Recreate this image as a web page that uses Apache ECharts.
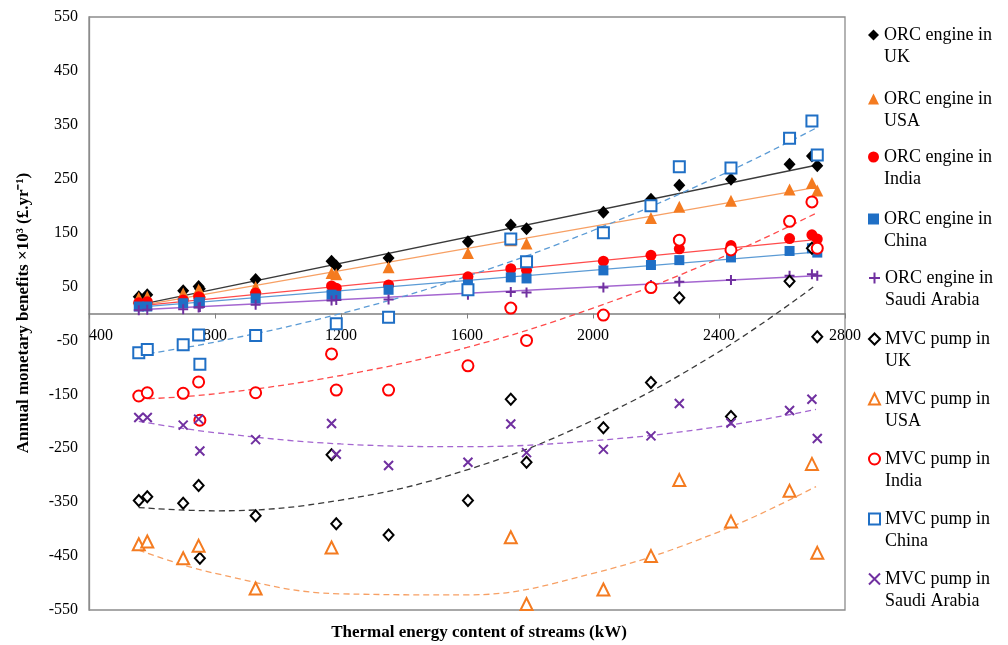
<!DOCTYPE html>
<html><head><meta charset="utf-8">
<script src="https://cdn.jsdelivr.net/npm/echarts@6/dist/echarts.min.js"></script>
<style>html,body{margin:0;padding:0;background:#fff}#c{width:1008px;height:645px}</style>
</head><body><div id="c"></div>
<script>
// Thermal energy content of the streams (kW) – shared x values
const streams = [558, 585, 699, 748, 752, 929, 1170, 1185, 1351, 1603, 1739, 1789, 2033, 2184, 2274, 2438, 2624, 2695, 2712];

// ORC engine benefits (×10^3 £/yr)
const orcUK     = [31, 35, 42, 50, 46, 63, 97, 88, 103, 133, 164, 157, 188, 212, 238, 249, 277, 292, 274];
const orcUSA    = [29, 31, 37, 44, 41, 49, 75, 73, 86, 112, 136, 130, 152, 177, 198, 209, 230, 242, 228];
const orcIndia  = [20, 22, 25, 31, 29, 38, 51, 47, 53, 68, 83, 80, 97, 108, 120, 126, 139, 146, 138];
const orcChina  = [13, 13, 19, 19, 21, 28, 35, 33, 44, 54, 67, 65, 80, 90, 99, 104, 116, 121, 113];
const orcSaudi  = [6, 7, 8, 11, 12, 16, 24, 25, 26, 35, 40, 39, 48, 53, 59, 62, 70, 73, 70];

// MVC pump benefits (×10^3 £/yr); null = hidden / off the plotted range
const mvcUK     = [-347, -340, -352, -319, -454, -375, -262, -390, -411, -347, -159, -276, -212, -128, 29, -191, 60, 121, -43];
const mvcUSA    = [-428, -423, -454, -431, null, -510, -434, null, null, null, -415, -539, -512, -450, -309, -386, -329, -279, -444];
const mvcIndia  = [-153, -147, -148, -127, -198, -147, -75, -142, -142, -97, 10, -50, -3, 48, 136, 118, 171, 207, 121];
const mvcChina  = [-73, -67, -58, -40, -94, -41, null, -19, -7, 44, 138, 96, 150, 200, 272, 270, 325, 357, 294];
const mvcSaudi  = [-193, -193, -207, -196, -255, -234, -204, -261, -282, -276, -205, -258, -252, -227, -167, -203, -180, -159, -232];

// Trend lines
const orcTrendX   = [558, 2708];
const orcUKTrend    = [16, 275];
const orcUSATrend   = [14, 234];
const orcIndiaTrend = [14, 137];
const orcChinaTrend = [12, 114];
const orcSaudiTrend = [7, 70];

const mvcTrendX   = [558, 800, 1200, 1600, 2000, 2400, 2708];
const mvcUKTrend    = [-360, -366, -346, -290, -198, -71, 53];
const mvcUSATrend   = [-439, -482, -520, -522, -482, -405, -321];
const mvcIndiaTrend = [-159, -149, -115, -63, 10, 102, 186];
const mvcChinaTrend = [-77, -53, 0, 69, 154, 255, 344];
const mvcSaudiTrend = [-200, -221, -242, -247, -236, -210, -178];

const yTickMin = -550, yTickMax = 550, yTickStep = 100;
const xTickMin = 400, xTickMax = 2800, xTickStep = 400;

const FONT = '"Liberation Serif", "Times New Roman", serif';
const C = {black:'#000000', orange:'#F47B20', red:'#FF0000', blue:'#1F6FC5', purple:'#7030A0'};
const LC = {black:'#3a3a3a', orange:'#F7A064', red:'#FF4B4B', blue:'#5B9BD5', purple:'#A466D0'};

const PLUS = 'path://M5,0L5,10M0,5L10,5';
const CROSS = 'path://M0,0L10,10M10,0L0,10';

function pts(xs, ys){ const out=[]; xs.forEach((x,i)=>{ if(ys[i]!==null && ys[i]!==undefined) out.push([x, ys[i]]); }); return out; }

const scatterDefs = [
  {name:'ORC engine in UK', d:orcUK, symbol:'diamond', size:[12,13], fill:C.black, stroke:null},
  {name:'ORC engine in USA', d:orcUSA, symbol:'triangle', size:12, fill:C.orange, stroke:null},
  {name:'ORC engine in India', d:orcIndia, symbol:'circle', size:11, fill:C.red, stroke:null},
  {name:'ORC engine in China', d:orcChina, symbol:'rect', size:10, fill:C.blue, stroke:null},
  {name:'ORC engine in Saudi Arabia', d:orcSaudi, symbol:PLUS, size:10, fill:'transparent', stroke:C.purple},
  {name:'MVC pump in UK', d:mvcUK, symbol:'diamond', size:[10,11], fill:'#ffffff', stroke:C.black},
  {name:'MVC pump in USA', d:mvcUSA, symbol:'triangle', size:12, fill:'#ffffff', stroke:C.orange},
  {name:'MVC pump in India', d:mvcIndia, symbol:'circle', size:11, fill:'#ffffff', stroke:C.red},
  {name:'MVC pump in China', d:mvcChina, symbol:'rect', size:11, fill:'#ffffff', stroke:C.blue},
  {name:'MVC pump in Saudi Arabia', d:mvcSaudi, symbol:CROSS, size:9, fill:'transparent', stroke:C.purple}
];

const series = [];
const trendDefs = [
  [orcTrendX, orcUKTrend, LC.black, 'solid'],
  [orcTrendX, orcUSATrend, LC.orange, 'solid'],
  [orcTrendX, orcIndiaTrend, LC.red, 'solid'],
  [orcTrendX, orcChinaTrend, LC.blue, 'solid'],
  [orcTrendX, orcSaudiTrend, LC.purple, 'solid'],
  [mvcTrendX, mvcUKTrend, LC.black, [6,4]],
  [mvcTrendX, mvcUSATrend, LC.orange, [6,4]],
  [mvcTrendX, mvcIndiaTrend, LC.red, [6,4]],
  [mvcTrendX, mvcChinaTrend, LC.blue, [6,4]],
  [mvcTrendX, mvcSaudiTrend, LC.purple, [6,4]]
];
trendDefs.forEach(t => series.push({
  type:'line', data:pts(t[0], t[1]), smooth:t[0].length>2 ? 0.4 : false, showSymbol:false, silent:true,
  lineStyle:{color:t[2], width:1.3, type:t[3]}, z:1
}));
scatterDefs.forEach(s => series.push({
  type:'scatter', name:s.name, data:pts(streams, s.d), symbol:s.symbol, symbolSize:s.size,
  itemStyle: s.stroke ? {color:s.fill, borderColor:s.stroke, borderWidth:2, opacity:1} : {color:s.fill, opacity:1},
  z:3
}));

const legendIconY = [35, 99, 157, 219, 278, 339, 399, 459, 519, 579];
const legends = scatterDefs.map((s,i) => ({
  data:[s.name], left:868, top: legendIconY[i] - 33.75, padding:0,
  orient:'vertical', itemWidth:11, itemHeight:11, selectedMode:false,
  formatter: n => ' \n' + n.replace(' in ', ' in\n'),
  textStyle:{fontFamily:FONT, fontSize:18, lineHeight:22.5, color:'#000'}
}));

const plain = v => String(v);
const option = {
  animation:false,
  backgroundColor:'#fff',
  grid:{left:89, top:17, width:756, height:593, show:true, borderColor:'#8c8c8c', borderWidth:1.3, containLabel:false},
  xAxis:[
    {type:'value', min:xTickMin, max:xTickMax, interval:xTickStep,
      axisLine:{onZero:true, lineStyle:{color:'#7f7f7f', width:1.5}},
      axisTick:{show:true, inside:false, length:5, lineStyle:{color:'#7f7f7f'}},
      splitLine:{show:false}, axisLabel:{show:false}},
    {type:'value', min:xTickMin, max:xTickMax, interval:xTickStep, position:'bottom', offset:-296.5,
      axisLine:{show:false, onZero:false}, axisTick:{show:false}, splitLine:{show:false},
      axisLabel:{fontFamily:FONT, fontSize:16, color:'#000', margin:14, alignMinLabel:'left', formatter:plain}}
  ],
  yAxis:{type:'value', min:yTickMin, max:yTickMax, interval:yTickStep,
    axisLine:{show:true, lineStyle:{color:'#8c8c8c', width:1.3}},
    axisTick:{show:false}, splitLine:{show:false},
    axisLabel:{fontFamily:FONT, fontSize:16, color:'#000', margin:11, formatter:plain}},
  legend:legends,
  graphic:[
    {type:'text', x:24, y:313, rotation:Math.PI/2,
      style:{text:'Annual monetary benefits ×10³ (£.yr⁻¹)', font:'bold 17px ' + FONT, fill:'#000', align:'center', verticalAlign:'middle'}},
    {type:'text', x:479, y:633,
      style:{text:'Thermal energy content of streams (kW)', font:'bold 17px ' + FONT, fill:'#000', align:'center', verticalAlign:'middle'}}
  ],
  series:series
};
const chart = echarts.init(document.getElementById('c'), null, {renderer:'canvas'});
chart.setOption(option);
</script></body></html>
